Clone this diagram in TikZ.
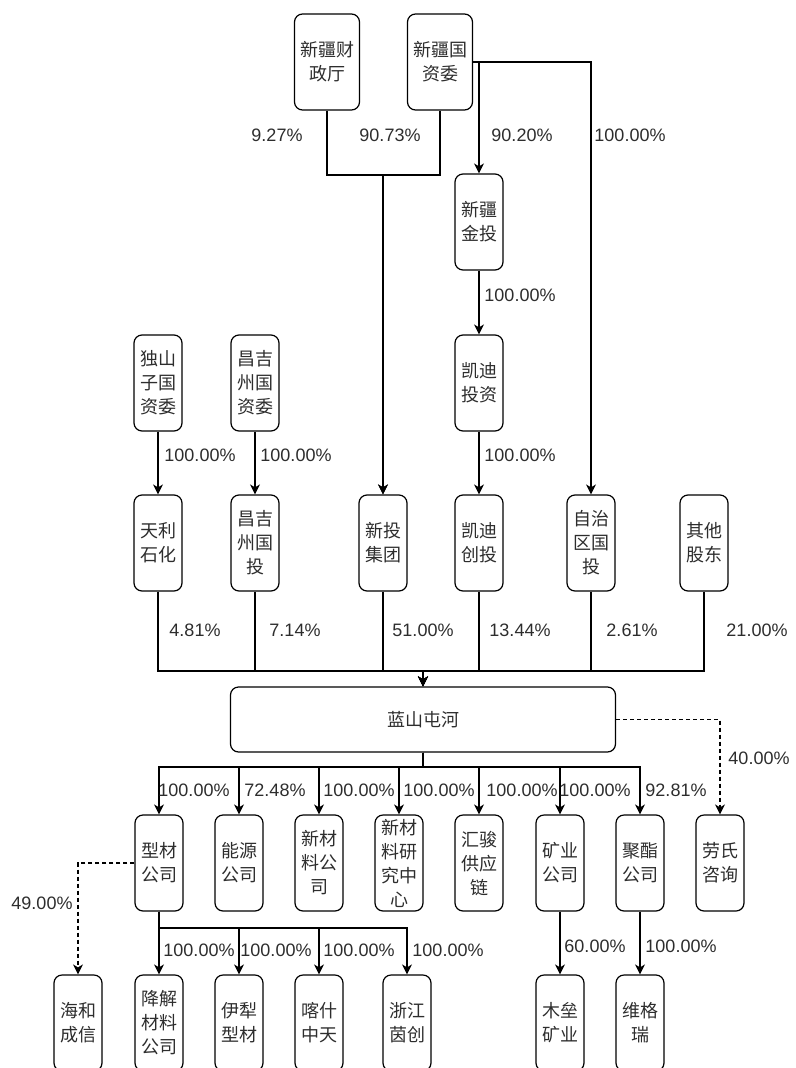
\documentclass[tikz,border=0pt]{standalone}
\usepackage{fontspec}
\setmainfont{Liberation Sans}
\newfontfamily\cjk{Noto Sans CJK SC}
\usetikzlibrary{arrows.meta,calc}
\definecolor{txt}{RGB}{45,45,45}
\begin{document}
\begin{tikzpicture}[x=1pt,y=-1pt,
  box/.style={draw, rounded corners=8pt, line width=1.2pt, minimum width=48pt, minimum height=96pt,
    inner sep=0pt, align=center, text=txt, font=\cjk\fontsize{18}{24}\selectfont},
  wbox/.style={box, minimum width=65pt},
  lbl/.style={font=\fontsize{18}{20}\selectfont, text=txt, inner sep=0pt},
  conn/.style={line width=1.2pt},
  arr/.style={conn, -{Stealth[length=10pt,width=10pt,inset=3pt]}},
  dsh/.style={dash pattern=on 4pt off 3pt}]
\useasboundingbox (0,0) rectangle (795,1068);
% top
\node[wbox] (czt) at (327,62) {新疆财\\政厅};
\node[wbox] (gzw) at (440,62) {新疆国\\资委};
\node[box] (jt) at (479,222) {新疆\\金投};
\node[box] (kdtz) at (479,383) {凯迪\\投资};
\node[box] (dsz) at (158,383) {独山\\子国\\资委};
\node[box] (cjgzw) at (255,383) {昌吉\\州国\\资委};
% shareholders
\node[box] (tlsh) at (158,543) {天利\\石化};
\node[box] (cjgt) at (255,543) {昌吉\\州国\\投};
\node[box] (xtjt) at (383,543) {新投\\集团};
\node[box] (kdct) at (479,543) {凯迪\\创投};
\node[box] (zzq) at (591,543) {自治\\区国\\投};
\node[box] (qt) at (704,543) {其他\\股东};
% main
\node[box, minimum width=385pt, minimum height=65pt] (lsth) at (423,719.5) {蓝山屯河};
% children
\node[box] (xc) at (159,863) {型材\\公司};
\node[box] (ny) at (239,863) {能源\\公司};
\node[box] (xcl) at (319,863) {新材\\料公\\司};
\node[box] (yjzx) at (399,863) {新材\\料研\\究中\\心};
\node[box] (hj) at (479,863) {汇骏\\供应\\链};
\node[box] (ky) at (560,863) {矿业\\公司};
\node[box] (jz) at (640,863) {聚酯\\公司};
\node[box] (ls) at (720,863) {劳氏\\咨询};
% bottom
\node[box] (hh) at (78,1023) {海和\\成信};
\node[box] (jj) at (159,1023) {降解\\材料\\公司};
\node[box] (yl) at (239,1023) {伊犁\\型材};
\node[box] (ks) at (319,1023) {喀什\\中天};
\node[box] (zj) at (407,1023) {浙江\\茵创};
\node[box] (ml) at (560,1023) {木垒\\矿业};
\node[box] (wgr) at (640,1023) {维格\\瑞};
% coordinates
\coordinate (topmid) at (383,175);
\coordinate (sbus) at (423,671);
\coordinate (cbus) at (423,767);
\coordinate (xbus) at (159,928);
% top edges
\draw[arr] (czt.south) |- (topmid) -- (xtjt.north);
\draw[arr] (gzw.south) |- (topmid) -- (xtjt.north);
\draw[arr] (gzw.east) -| (jt.north);
\draw[arr] (gzw.east) -| (zzq.north);
\draw[arr] (jt) -- (kdtz);
\draw[arr] (kdtz) -- (kdct);
\draw[arr] (dsz) -- (tlsh);
\draw[arr] (cjgzw) -- (cjgt);
% shareholders to main
\foreach \n in {tlsh,cjgt,xtjt,kdct,zzq,qt}
  \draw[arr] (\n.south) |- (sbus) -- (lsth.north);
% main to children
\foreach \n in {xc,ny,xcl,yjzx,hj,ky,jz}
  \draw[arr] (lsth.south) -- (cbus) -| (\n.north);
\draw[arr,dsh] (lsth.east) -| (ls.north);
% children to bottom
\foreach \n in {jj,yl,ks,zj}
  \draw[arr] (xc.south) -- (xbus) -| (\n.north);
\draw[arr,dsh] (xc.west) -| (hh.north);
\draw[arr] (ky) -- (ml);
\draw[arr] (jz) -- (wgr);
% labels
\node[lbl] at (277,135) {9.27\%};
\node[lbl] at (390,135) {90.73\%};
\node[lbl] at (522,135) {90.20\%};
\node[lbl] at (630,135) {100.00\%};
\node[lbl] at (520,295) {100.00\%};
\node[lbl] at (520,455) {100.00\%};
\node[lbl] at (200,455) {100.00\%};
\node[lbl] at (296,455) {100.00\%};
\node[lbl] at (195,630) {4.81\%};
\node[lbl] at (295,630) {7.14\%};
\node[lbl] at (423,630) {51.00\%};
\node[lbl] at (520,630) {13.44\%};
\node[lbl] at (632,630) {2.61\%};
\node[lbl] at (757,630) {21.00\%};
\node[lbl] at (194,790) {100.00\%};
\node[lbl] at (275,790) {72.48\%};
\node[lbl] at (359,790) {100.00\%};
\node[lbl] at (439,790) {100.00\%};
\node[lbl] at (522,790) {100.00\%};
\node[lbl] at (595,790) {100.00\%};
\node[lbl] at (676,790) {92.81\%};
\node[lbl] at (759,758) {40.00\%};
\node[lbl] at (42,903) {49.00\%};
\node[lbl] at (199,950) {100.00\%};
\node[lbl] at (276,950) {100.00\%};
\node[lbl] at (359,950) {100.00\%};
\node[lbl] at (448,950) {100.00\%};
\node[lbl] at (595,946) {60.00\%};
\node[lbl] at (681,946) {100.00\%};
\end{tikzpicture}
\end{document}
